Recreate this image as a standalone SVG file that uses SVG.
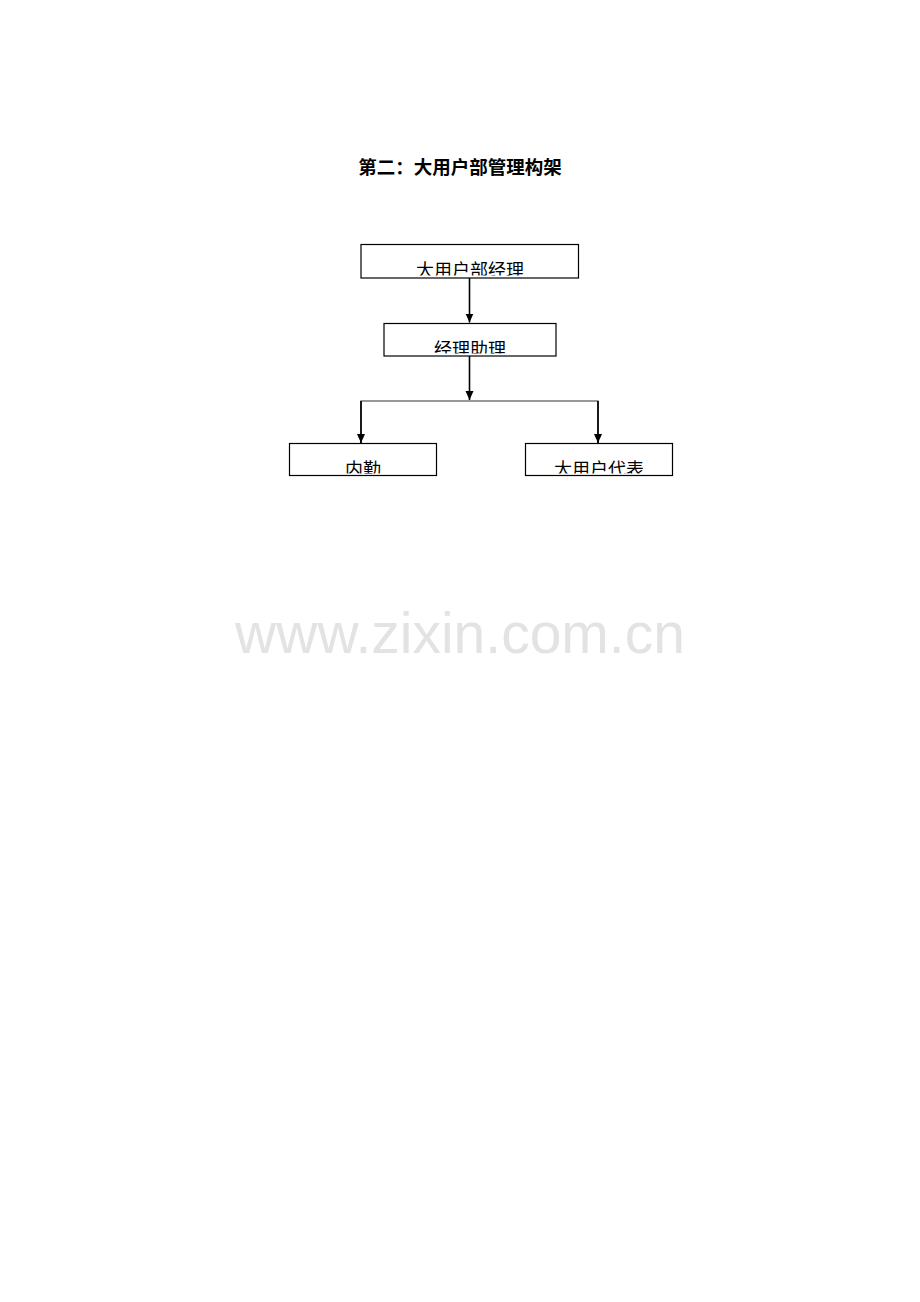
<svg xmlns="http://www.w3.org/2000/svg" width="920" height="1302" viewBox="0 0 920 1302">
<style>
.box{fill:#fff;stroke:#000;stroke-width:1.2}
.lbl{font-family:"Noto Sans CJK SC","Noto Sans",sans-serif;font-size:18px;fill:#000;text-anchor:middle}
.title{font-family:"Noto Sans CJK SC","Noto Sans",sans-serif;font-size:18.5px;font-weight:bold;fill:#000;text-anchor:middle}
.wm{font-family:"Liberation Sans",Arial,sans-serif;font-size:57px;fill:#e3e3e3;text-anchor:middle}
.ln{stroke:#000;stroke-width:1.6;fill:none}
.hl{stroke:#333;stroke-width:1.2;fill:none}
</style>
<defs>
<marker id="arr" markerUnits="userSpaceOnUse" markerWidth="10" markerHeight="10" refX="9" refY="4" orient="auto">
<path d="M0,0 L9,4 L0,8 Z" fill="#000"/>
</marker>
<clipPath id="c1"><rect x="362" y="245" width="216" height="30.5"/></clipPath>
<clipPath id="c2"><rect x="385" y="324" width="171" height="29.5"/></clipPath>
<clipPath id="c3"><rect x="290" y="444" width="146" height="29.5"/></clipPath>
<clipPath id="c4"><rect x="526" y="444" width="146" height="29.5"/></clipPath>
</defs>
<rect width="920" height="1302" fill="#fff"/>
<text class="wm" x="460" y="653">www.zixin.com.cn</text>
<text class="title" x="460" y="174">第二：大用户部管理构架</text>
<g id="connectors">
<line class="ln" x1="469.5" y1="278" x2="469.5" y2="322.5" marker-end="url(#arr)"/>
<line class="ln" x1="469.5" y1="356" x2="469.5" y2="400" marker-end="url(#arr)"/>
<polyline class="hl" points="361,443 361,401 598,401 598,443"/>
<line class="ln" x1="361" y1="401" x2="361" y2="443" marker-end="url(#arr)"/>
<line class="ln" x1="598" y1="401" x2="598" y2="443" marker-end="url(#arr)"/>
</g>
<g id="n1">
<rect class="box" x="361" y="244.5" width="217.5" height="33.5"/>
<text class="lbl" x="470" y="277" clip-path="url(#c1)">大用户部经理</text>
</g>
<g id="n2">
<rect class="box" x="384" y="323.5" width="172" height="32.5"/>
<text class="lbl" x="470" y="356" clip-path="url(#c2)">经理助理</text>
</g>
<g id="n3">
<rect class="box" x="289.5" y="443.5" width="147" height="32"/>
<text class="lbl" x="363" y="476" clip-path="url(#c3)">内勤</text>
</g>
<g id="n4">
<rect class="box" x="525.5" y="443.5" width="147" height="32"/>
<text class="lbl" x="599" y="476" clip-path="url(#c4)">大用户代表</text>
</g>
</svg>
